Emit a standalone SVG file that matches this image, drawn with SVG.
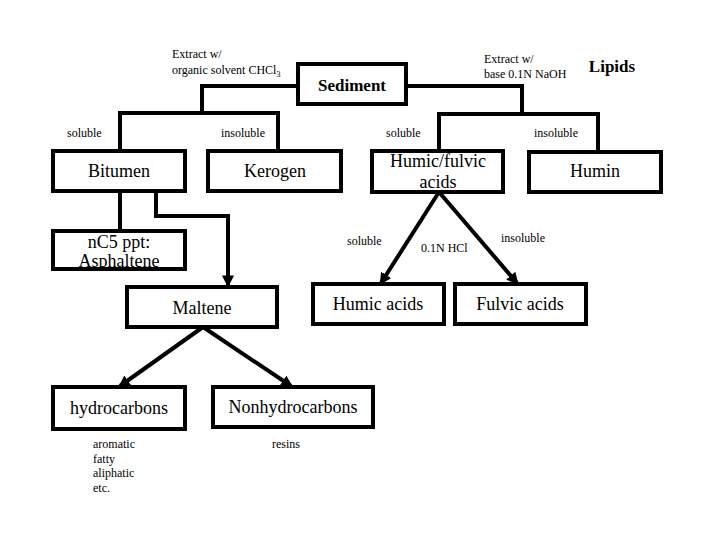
<svg xmlns="http://www.w3.org/2000/svg" width="720" height="540" viewBox="0 0 720 540" font-family="'Liberation Serif', 'DejaVu Serif', 'Times New Roman', serif">
<style>
.box{fill:#fff;stroke:#000;stroke-width:4}
.ln{fill:none;stroke:#000;stroke-width:4}
.t{font-size:18px;fill:#000;text-anchor:middle}
.b{font-weight:bold;font-size:17px}
.s{font-size:12px;fill:#000}
</style>
<defs>
<marker id="ah" viewBox="0 0 10 10" refX="8" refY="5" markerWidth="3" markerHeight="3" orient="auto" markerUnits="strokeWidth">
<path d="M0,0 L10,5 L0,10 z" fill="#000"/>
</marker>
</defs>
<rect width="720" height="540" fill="#fff"/>
<g id="connectors">
<polyline class="ln" points="298,86 202,86 202,113"/>
<polyline class="ln" points="120,151 120,113 278,113 278,151"/>
<polyline class="ln" points="406,86 522,86 522,114"/>
<polyline class="ln" points="439,151 439,114 598,114 598,152"/>
<line class="ln" x1="120" y1="191" x2="120" y2="231"/>
<polyline class="ln" points="156,191 156,216 228,216 228,285" marker-end="url(#ah)"/>
<line class="ln" x1="439" y1="192" x2="381" y2="283" marker-end="url(#ah)"/>
<line class="ln" x1="439" y1="192" x2="517" y2="283" marker-end="url(#ah)"/>
<line class="ln" x1="203" y1="327" x2="120" y2="386" marker-end="url(#ah)"/>
<line class="ln" x1="203" y1="327" x2="291" y2="386" marker-end="url(#ah)"/>
</g>
<g id="sediment"><rect class="box" x="298" y="64" width="108" height="40"/><text class="t b" x="352" y="91">Sediment</text></g>
<g id="lipids"><text class="t b" x="612" y="72">Lipids</text></g>
<g id="bitumen"><rect class="box" x="53" y="151" width="132" height="40"/><text class="t" x="119" y="177">Bitumen</text></g>
<g id="kerogen"><rect class="box" x="208" y="151" width="133" height="40"/><text class="t" x="275" y="177">Kerogen</text></g>
<g id="humicfulvic"><rect class="box" x="372" y="151" width="131" height="41"/><text class="t" x="438" y="167">Humic/fulvic</text><text class="t" x="438" y="188">acids</text></g>
<g id="humin"><rect class="box" x="529" y="152" width="132" height="40"/><text class="t" x="595" y="177">Humin</text></g>
<g id="asphaltene"><rect class="box" x="53" y="231" width="132" height="38"/><text class="t" x="119" y="248">nC5 ppt:</text><text class="t" x="119" y="267">Asphaltene</text></g>
<g id="maltene"><rect class="box" x="127" y="287" width="150" height="40"/><text class="t" x="202" y="314">Maltene</text></g>
<g id="humicacids"><rect class="box" x="313" y="284" width="131" height="40"/><text class="t" x="378" y="310">Humic acids</text></g>
<g id="fulvicacids"><rect class="box" x="455" y="284" width="131" height="40"/><text class="t" x="520" y="310">Fulvic acids</text></g>
<g id="hydrocarbons"><rect class="box" x="53" y="387" width="132" height="42"/><text class="t" x="119" y="414">hydrocarbons</text></g>
<g id="nonhydrocarbons"><rect class="box" x="213" y="387" width="160" height="40"/><text class="t" x="293" y="413">Nonhydrocarbons</text></g>
<g id="labels">
<text class="s" x="172" y="58">Extract w/</text>
<text class="s" x="172" y="74">organic solvent CHCl<tspan font-size="8" dy="3">3</tspan></text>
<text class="s" x="484" y="63">Extract w/</text>
<text class="s" x="484" y="78">base 0.1N NaOH</text>
<text class="s" x="67" y="137">soluble</text>
<text class="s" x="221" y="137">insoluble</text>
<text class="s" x="386" y="137">soluble</text>
<text class="s" x="534" y="137">insoluble</text>
<text class="s" x="347" y="245">soluble</text>
<text class="s" x="421" y="252">0.1N HCl</text>
<text class="s" x="501" y="242">insoluble</text>
<text class="s" x="93" y="448">aromatic</text>
<text class="s" x="93" y="463">fatty</text>
<text class="s" x="93" y="477">aliphatic</text>
<text class="s" x="93" y="492">etc.</text>
<text class="s" x="272" y="448">resins</text>
</g>
</svg>
